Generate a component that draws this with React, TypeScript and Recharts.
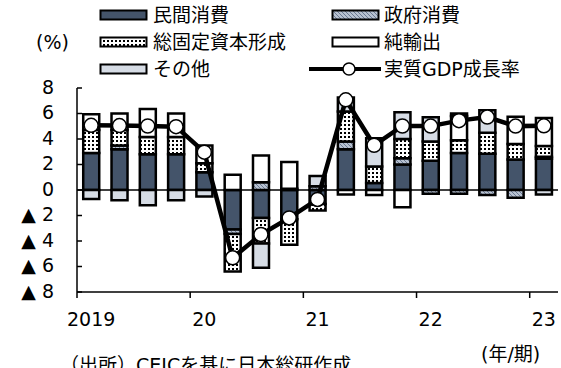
import React from 'react';
import { ComposedChart, Bar, Line, XAxis, YAxis, ReferenceLine } from 'recharts';

const quarters = ['2019Q1','2019Q2','2019Q3','2019Q4','2020Q1','2020Q2','2020Q3','2020Q4','2021Q1','2021Q2','2021Q3','2021Q4','2022Q1','2022Q2','2022Q3','2022Q4','2023Q1'];
const yearLabels: Record<string, string> = { '2019Q1': '2019', '2020Q1': '20', '2021Q1': '21', '2022Q1': '22', '2023Q1': '23' };
const privateCons = [2.9, 3.2, 2.8, 2.8, 1.4, -3.1, -2.2, -2.3, -1.1, 3.2, 0.55, 2.0, 2.3, 2.9, 2.85, 2.4, 2.45];
const govCons = [0, 0.3, 0, 0, 0, -0.35, 0.6, 0.1, 0.3, 0.6, 0, 0.5, -0.3, -0.3, -0.4, -0.6, 0.15];
const gfcf = [1.8, 1.2, 1.35, 1.35, 0.7, -2.95, -2.0, -2.0, -0.5, 2.35, 1.3, 1.5, 1.5, 1.0, 1.65, 1.2, 0.85];
const netExports = [1.25, 1.3, 2.2, 1.85, 1.4, 1.2, 2.1, 2.1, 0, -0.35, -0.4, -1.35, 0, 1.9, 0, 2.15, 2.2];
const others = [-0.7, -0.8, -1.2, -0.8, -0.5, 0, -1.9, 0, 0.8, 1.1, 2.2, 2.1, 1.9, 0.2, 1.75, 0, -0.35];
const gdpGrowth = [5.07, 5.05, 5.02, 4.97, 2.97, -5.32, -3.49, -2.19, -0.74, 7.07, 3.51, 5.02, 5.01, 5.44, 5.72, 5.01, 5.03];
const yTicks = [-8, -6, -4, -2, 0, 2, 4, 6, 8];

const data = quarters.map((q, i) => ({
  q,
  priv: privateCons[i],
  gov: govCons[i],
  gfcf: gfcf[i],
  nx: netExports[i],
  other: others[i],
  gdp: gdpGrowth[i],
}));

const NAVY = '#44546a';
const LIGHT = '#d6dce5';
const FONT = "'DejaVu Sans', 'Noto Sans CJK JP', sans-serif";

const Patterns = ({ suffix }: { suffix: string }) => (
  <defs>
    <pattern id={'dots' + suffix} patternUnits="userSpaceOnUse" width="4" height="4">
      <rect width="4" height="4" fill="#fff" />
      <rect x="0" y="0" width="2" height="2" fill="#000" />
    </pattern>
    <pattern id={'hatch' + suffix} patternUnits="userSpaceOnUse" width="4" height="4">
      <rect width="4" height="4" fill="#b8c2d1" />
      <path d="M-1,-1 L5,5 M-1,3 L1,5 M3,-1 L5,1" stroke="#6b7a93" strokeWidth="1" />
    </pattern>
  </defs>
);

const XTick = (props: any) => {
  const { x, y, payload } = props;
  const label = yearLabels[payload.value];
  if (!label) return null;
  const off = payload.offset || 0;
  return (
    <g>
      <line x1={x - off} x2={x - off} y1={y} y2={y + 6} stroke="#000" strokeWidth={1.5} />
      <text x={x} y={y + 28} textAnchor="middle" dominantBaseline="middle" fontSize={19} fontFamily={FONT} fill="#000">{label}</text>
    </g>
  );
};

const YTick = (props: any) => {
  const { x, y, payload } = props;
  const v = payload.value as number;
  const label = v < 0 ? '▲ ' + Math.abs(v) : String(v);
  return (
    <g>
      <line x1={x} x2={x + 5} y1={y} y2={y} stroke="#000" strokeWidth={1.5} />
      <text x={x - 23} y={y} textAnchor="end" dominantBaseline="middle" fontSize={19} fontFamily={FONT} fill="#000">{label}</text>
    </g>
  );
};

const Swatch = ({ fill, suffix }: { fill: string; suffix: string }) => (
  <svg width={50} height={12} style={{ display: 'block' }}>
    <Patterns suffix={suffix} />
    <rect x={1.5} y={1.5} width={46} height={9} fill={fill} stroke="#000" strokeWidth={2} />
  </svg>
);

const LineSwatch = () => (
  <svg width={72} height={16} style={{ display: 'block' }}>
    <line x1={0} x2={72} y1={8} y2={8} stroke="#000" strokeWidth={4} />
    <circle cx={40} cy={8} r={6} fill="#fff" stroke="#000" strokeWidth={1.5} />
  </svg>
);

const legendText: React.CSSProperties = { position: 'absolute', fontSize: 19, fontFamily: FONT, lineHeight: '22px', whiteSpace: 'nowrap', color: '#000' };

export default function App() {
  return (
    <div style={{ position: 'absolute', left: 0, top: 0, width: 561, height: 368, overflow: 'hidden', background: '#fff' }}>
      <ComposedChart width={561} height={368} data={data} stackOffset="sign" barCategoryGap="22%" margin={{ top: 88, right: 3, bottom: 46, left: 0 }}>
        <Patterns suffix="C" />
        <XAxis dataKey="q" height={30} interval={0} tick={<XTick />} tickLine={false} tickSize={0} tickMargin={0} axisLine={{ stroke: '#000', strokeWidth: 1.5 }} />
        <YAxis width={77} domain={[-8, 8]} ticks={yTicks} interval={0} tick={<YTick />} tickLine={false} tickSize={0} tickMargin={0} axisLine={{ stroke: '#000', strokeWidth: 1.5 }} />
        <Bar dataKey="priv" stackId="s" fill={NAVY} stroke="#000" strokeWidth={2.5} isAnimationActive={false} />
        <Bar dataKey="gov" stackId="s" fill="url(#hatchC)" stroke="#000" strokeWidth={2.5} isAnimationActive={false} />
        <Bar dataKey="gfcf" stackId="s" fill="url(#dotsC)" stroke="#000" strokeWidth={2.5} isAnimationActive={false} />
        <Bar dataKey="nx" stackId="s" fill="#fff" stroke="#000" strokeWidth={2.5} isAnimationActive={false} />
        <Bar dataKey="other" stackId="s" fill={LIGHT} stroke="#000" strokeWidth={2.5} isAnimationActive={false} />
        <ReferenceLine y={0} stroke="#000" strokeWidth={1.5} />
        <Line dataKey="gdp" type="linear" stroke="#000" strokeWidth={4.5} isAnimationActive={false}
          dot={{ r: 7, fill: '#fff', stroke: '#000', strokeWidth: 1.5 }} />
      </ComposedChart>

      <div style={{ position: 'absolute', left: 99, top: 9 }}><Swatch fill={NAVY} suffix="L1" /></div>
      <div style={{ ...legendText, left: 153, top: 4 }}>民間消費</div>
      <div style={{ position: 'absolute', left: 331, top: 9 }}><Swatch fill="url(#hatchL2)" suffix="L2" /></div>
      <div style={{ ...legendText, left: 384, top: 4 }}>政府消費</div>

      <div style={{ ...legendText, left: 36, top: 31 }}>(%)</div>
      <div style={{ position: 'absolute', left: 99, top: 36 }}><Swatch fill="url(#dotsL3)" suffix="L3" /></div>
      <div style={{ ...legendText, left: 153, top: 31 }}>総固定資本形成</div>
      <div style={{ position: 'absolute', left: 331, top: 36 }}><Swatch fill="#fff" suffix="L4" /></div>
      <div style={{ ...legendText, left: 384, top: 31 }}>純輸出</div>

      <div style={{ position: 'absolute', left: 99, top: 63 }}><Swatch fill={LIGHT} suffix="L5" /></div>
      <div style={{ ...legendText, left: 153, top: 58 }}>その他</div>
      <div style={{ position: 'absolute', left: 309, top: 61 }}><LineSwatch /></div>
      <div style={{ ...legendText, left: 384, top: 58 }}>実質GDP成長率</div>

      <div style={{ ...legendText, left: 481, top: 343 }}>(年/期)</div>
      <div style={{ ...legendText, left: 60, top: 354 }}>（出所）CEICを基に日本総研作成</div>
    </div>
  );
}
